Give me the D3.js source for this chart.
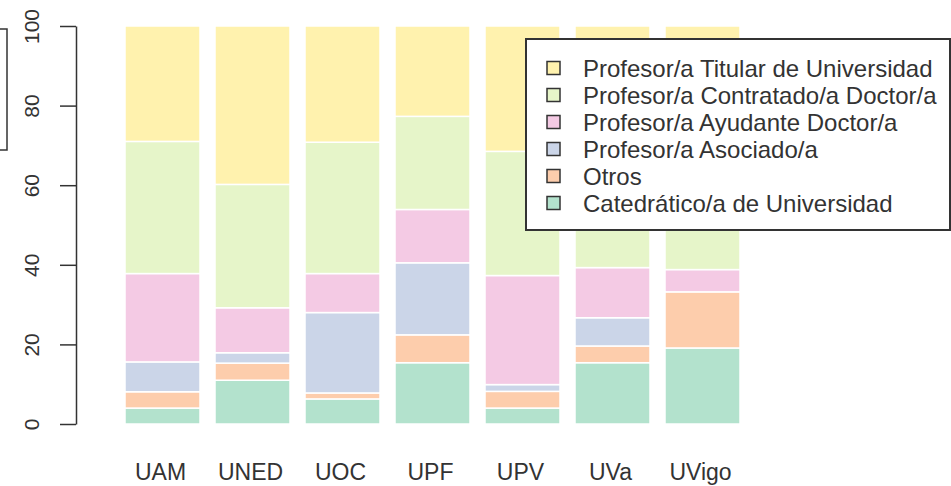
<!DOCTYPE html>
<html>
<head>
<meta charset="utf-8">
<script src="https://cdn.jsdelivr.net/npm/d3@7"></script>
<style>
  html, body { margin: 0; padding: 0; background: #fff; }
  svg { display: block; font-family: "Liberation Sans", Arial, sans-serif; }
</style>
</head>
<body>
<div id="chart"></div>
<script>
// universities on the x axis
const universities = ['UAM', 'UNED', 'UOC', 'UPF', 'UPV', 'UVa', 'UVigo'];

// percentages per category, stacked from the bottom up
const catedratico = [4, 11, 6.3, 15.4, 4, 15.4, 19.1];
const otros = [4.1, 4.3, 1.5, 7, 4.2, 4.2, 14.1];
const asociado = [7.5, 2.6, 20.2, 18.1, 1.7, 7.1, 0];
const ayudante = [22.2, 11.3, 9.8, 13.4, 27.4, 12.6, 5.6];
const contratado = [33.2, 31, 33, 23.4, 31.2, 31, 33];
const titular = [29, 39.8, 29.2, 22.7, 31.5, 29.7, 28.2];

const seriesNames = [
  'Catedrático/a de Universidad',
  'Otros',
  'Profesor/a Asociado/a',
  'Profesor/a Ayudante Doctor/a',
  'Profesor/a Contratado/a Doctor/a',
  'Profesor/a Titular de Universidad'
];
const seriesValues = [catedratico, otros, asociado, ayudante, contratado, titular];
const seriesColors = ['#B3E2CD', '#FDCDAC', '#CBD5E8', '#F4CAE4', '#E6F5C9', '#FFF2AE'];

const yTicks = [0, 20, 40, 60, 80, 100];

const width = 951;
const height = 486;

const svg = d3.select('#chart')
  .append('svg')
  .attr('width', width)
  .attr('height', height);

const x = d3.scaleBand()
  .domain(universities)
  .range([110, 755])
  .paddingInner(1 / 6)
  .paddingOuter(1 / 6);

const y = d3.scaleLinear()
  .domain([0, 100])
  .range([424, 26]);

// build table for d3.stack
const table = universities.map((u, i) => {
  const row = { uni: u };
  seriesNames.forEach((s, j) => { row[s] = seriesValues[j][i]; });
  return row;
});

const stacked = d3.stack().keys(seriesNames)(table);

// Bars
svg.append('g')
  .selectAll('g')
  .data(stacked)
  .join('g')
  .attr('fill', (d, i) => seriesColors[i])
  .selectAll('rect')
  .data(d => d)
  .join('rect')
  .attr('x', d => x(d.data.uni))
  .attr('width', x.bandwidth())
  .attr('y', d => y(d[1]))
  .attr('height', d => Math.max(0, y(d[0]) - y(d[1])))
  .attr('stroke', '#fff')
  .attr('stroke-width', 1.5);

// Y axis (R style: ticks to the left, labels rotated)
const yAxis = svg.append('g')
  .attr('transform', 'translate(76,0)')
  .call(d3.axisLeft(y).tickValues(yTicks).tickSize(16).tickSizeOuter(0).tickFormat(d3.format('d')));

yAxis.select('.domain').attr('stroke', '#333').attr('stroke-width', 1.5);
yAxis.selectAll('.tick line').attr('stroke', '#333').attr('stroke-width', 1.5);
yAxis.selectAll('.tick text')
  .attr('x', 0)
  .attr('y', 0)
  .attr('dy', 0)
  .attr('text-anchor', 'middle')
  .attr('transform', 'translate(-37,0) rotate(-90)')
  .attr('font-size', '21px')
  .attr('font-family', '"Liberation Sans", Arial, sans-serif')
  .attr('fill', '#333');

// category labels
svg.append('g')
  .selectAll('text')
  .data(universities)
  .join('text')
  .attr('x', d => x(d) + x.bandwidth() / 2 - 2)
  .attr('y', 480)
  .attr('text-anchor', 'middle')
  .attr('font-size', '23px')
  .attr('fill', '#333')
  .text(d => d);

// partial box at left edge (cut off by the crop)
svg.append('rect')
  .attr('x', -20)
  .attr('y', 29)
  .attr('width', 27)
  .attr('height', 121)
  .attr('fill', 'none')
  .attr('stroke', '#333')
  .attr('stroke-width', 1.5);

// Legend
const legend = svg.append('g');

legend.append('rect')
  .attr('x', 526)
  .attr('y', 39)
  .attr('width', 424)
  .attr('height', 191)
  .attr('fill', '#fff')
  .attr('stroke', '#333')
  .attr('stroke-width', 2);

const legendOrder = d3.range(seriesNames.length).reverse();

legendOrder.forEach((si, i) => {
  const cy = 68 + i * 27;
  legend.append('rect')
    .attr('x', 547)
    .attr('y', cy - 6.5)
    .attr('width', 13)
    .attr('height', 13)
    .attr('fill', seriesColors[si])
    .attr('stroke', '#333')
    .attr('stroke-width', 1.5);

  legend.append('text')
    .attr('x', 583)
    .attr('y', cy)
    .attr('dy', '0.36em')
    .attr('font-size', '24px')
    .attr('fill', '#333')
    .text(seriesNames[si]);
});
</script>
</body>
</html>
